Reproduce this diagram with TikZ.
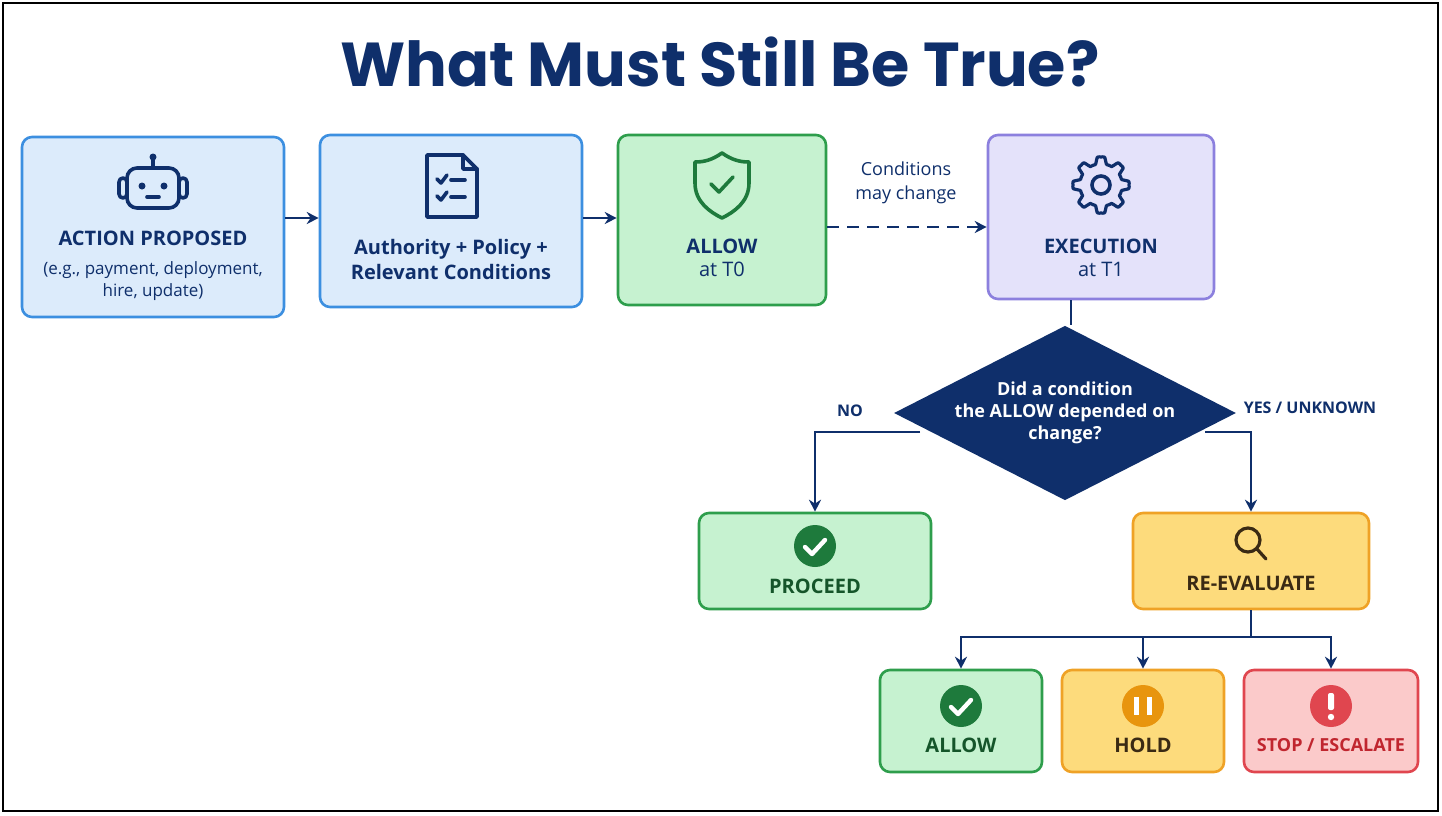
\documentclass[tikz,border=0pt]{standalone}
\usepackage{fontspec}
\setmainfont{Open Sans}
\newfontfamily\titlefont{Poppins}
\usetikzlibrary{shapes.geometric,arrows.meta}

\definecolor{navy}{HTML}{0F2F6B}
\definecolor{bluefill}{HTML}{DCEBFB}
\definecolor{blueline}{HTML}{3C8FE0}
\definecolor{greenfill}{HTML}{C6F2D0}
\definecolor{greenline}{HTML}{2E9E4C}
\definecolor{greendark}{HTML}{1E7A3C}
\definecolor{purplefill}{HTML}{E4E2FA}
\definecolor{purpleline}{HTML}{8C80DE}
\definecolor{yellowfill}{HTML}{FDDB7C}
\definecolor{yellowline}{HTML}{EFA226}
\definecolor{orangeicon}{HTML}{E8950E}
\definecolor{redfill}{HTML}{FBCACA}
\definecolor{redline}{HTML}{E0464F}
\definecolor{redtext}{HTML}{C0262F}
\definecolor{brown}{HTML}{3A2A14}

\tikzset{
  box/.style={draw, line width=1.3pt, rounded corners=5pt, align=center,
    font=\bfseries\fontsize{10}{12}\selectfont, text=navy, inner sep=2pt},
  bluebox/.style={box, fill=bluefill, draw=blueline},
  greenbox/.style={box, fill=greenfill, draw=greenline},
  purplebox/.style={box, fill=purplefill, draw=purpleline},
  yellowbox/.style={box, fill=yellowfill, draw=yellowline, text=brown},
  redbox/.style={box, fill=redfill, draw=redline, text=redtext},
  decision/.style={diamond, fill=navy, text=white, aspect=1.96, inner sep=0pt,
    minimum width=157pt, minimum height=80pt, align=center,
    font=\bfseries\fontsize{9}{11}\selectfont},
  flow/.style={navy, line width=1.2pt, -{Stealth[length=6pt,width=6pt]}},
  lbl/.style={text=navy, font=\bfseries\fontsize{8}{10}\selectfont},
  icon/.style={navy, line width=1.8pt, line cap=round, line join=round}
}

\begin{document}
\begin{tikzpicture}[x=0.5pt, y=-0.5pt]
\useasboundingbox (0,0) rectangle (1442,815);
\fill[white] (0,0) rectangle (1442,815);
\draw[line width=1pt] (3,3) rectangle (1438,811);

\node[text=navy, font=\titlefont\bfseries\fontsize{31}{36}\selectfont] (title) at (720,62) {What Must Still Be True?};

% top row
\node[bluebox, minimum width=131pt, minimum height=90pt, text depth=30pt] (action) at (153,227) {};
\node[text=navy, align=center, font=\bfseries\fontsize{10}{12}\selectfont] (actiontxt) at (153,238) {ACTION PROPOSED};
\node[text=navy, align=center, font=\fontsize{8.5}{11}\selectfont] (actionsub) at (153,281) {(e.g., payment, deployment,\\hire, update)};
\node[bluebox, minimum width=131pt, minimum height=86pt] (policy) at (451,221) {};
\node[text=navy, align=center, font=\bfseries\fontsize{10}{12.5}\selectfont] (policytxt) at (451,259) {Authority + Policy +\\Relevant Conditions};
\node[greenbox, minimum width=104pt, minimum height=85pt] (allow0) at (722,220) {};
\node[text=navy, align=center, font=\bfseries\fontsize{10}{12.5}\selectfont] (allow0txt) at (722,258) {ALLOW\\[-1pt]{\mdseries at T0}};
\node[purplebox, minimum width=113pt, minimum height=82pt] (exec) at (1101,217) {};
\node[text=navy, align=center, font=\bfseries\fontsize{10}{12.5}\selectfont] (exectxt) at (1101,258) {EXECUTION\\[-1pt]{\mdseries at T1}};

% icons
\begin{scope}[icon]
  % robot
  \draw[rounded corners=5pt] (127,168) rectangle (179,208);
  \draw (153,168) -- (153,160); \fill[navy] (153,157) circle (3.5);
  \draw[rounded corners=2pt] (119,178) rectangle (127,198);
  \draw[rounded corners=2pt] (179,178) rectangle (187,198);
  \fill[navy] (142,186) circle (3.5); \fill[navy] (164,186) circle (3.5);
  \draw (147,197) -- (159,197);
  % document
  \draw (427,155) -- (463,155) -- (477,169) -- (477,217) -- (427,217) -- cycle;
  \draw (463,155) -- (463,169) -- (477,169);
  \draw (437,179) -- (441,183) -- (447,175); \draw (451,180) -- (465,180);
  \draw (437,196) -- (441,200) -- (447,192); \draw (451,197) -- (465,197);
  % shield
  \draw[greendark] (722,153) .. controls (712,160) and (704,162) .. (695,162)
    -- (695,183) .. controls (695,202) and (710,212) .. (722,218)
    .. controls (734,212) and (749,202) .. (749,183) -- (749,162)
    .. controls (740,162) and (732,160) .. (722,153) -- cycle;
  \draw[greendark] (711,184) -- (719,192) -- (733,177);
  % gear
  \draw (1101,185) circle (9);
  \draw[line width=1.6pt] plot[smooth cycle, tension=0.3, samples=48, domain=0:352.5, variable=\t]
    ({1101+(29+ 4*(cos(8*\t)>0 ? 1 : -1))*cos(\t)*0.85}, {185+(29+ 4*(cos(8*\t)>0 ? 1 : -1))*sin(\t)*0.85});
\end{scope}

% decision
\node[decision] (cond) at (1065,413) {Did a condition\\the ALLOW depended on\\change?};
\coordinate (condleft) at (920,432);
\coordinate (condright) at (1205,432);

% outcomes
\node[greenbox, minimum width=116pt, minimum height=48pt] (proceed) at (815,561) {};
\node[text=greendark!70!black, font=\bfseries\fontsize{10}{12}\selectfont] (proceedtxt) at (815,586) {PROCEED};
\node[yellowbox, minimum width=118pt, minimum height=48pt] (reeval) at (1251,561) {};
\node[text=brown, font=\bfseries\fontsize{10}{12}\selectfont] (reevaltxt) at (1251,583) {RE-EVALUATE};
\node[greenbox, minimum width=81pt, minimum height=51pt] (allow) at (961,721) {};
\node[text=greendark!70!black, font=\bfseries\fontsize{10}{12}\selectfont] (allowtxt) at (961,745) {ALLOW};
\node[yellowbox, minimum width=81pt, minimum height=51pt] (hold) at (1143,721) {};
\node[text=brown, font=\bfseries\fontsize{10}{12}\selectfont] (holdtxt) at (1143,745) {HOLD};
\node[redbox, minimum width=87pt, minimum height=51pt] (stop) at (1331,721) {};
\node[text=redtext, font=\bfseries\fontsize{9}{11}\selectfont] (stoptxt) at (1331,745) {STOP / ESCALATE};

% small icons
\fill[greendark] (815,546) circle (21);
\draw[white, line width=2.2pt, line cap=round, line join=round] (805,547) -- (812,554) -- (825,540);
\fill[greendark] (961,706) circle (21);
\draw[white, line width=2.2pt, line cap=round, line join=round] (951,707) -- (958,714) -- (971,700);
\fill[orangeicon] (1143,706) circle (21);
\fill[white] (1134,697) rectangle (1139,715); \fill[white] (1147,697) rectangle (1152,715);
\fill[redline] (1331,706) circle (21);
\fill[white, rounded corners=1pt] (1328,693) rectangle (1334,710);
\fill[white] (1331,717) circle (3.2);
\draw[brown, line width=1.6pt, line cap=round] (1248,540) circle (12) (1257,549) -- (1266,559);

% connectors
\draw[flow] (action.east |- 0,218) -- (policy.west |- 0,218);
\draw[flow] (policy.east |- 0,218) -- (allow0.west |- 0,218);
\draw[flow, dashed, dash pattern=on 6pt off 4pt] (allow0.east |- 0,227) -- (exec.west |- 0,227);
\node[text=navy, align=center, font=\fontsize{9}{12}\selectfont] (changelbl) at (906,183) {Conditions\\may change};
\draw[navy, line width=1pt] (exec.south -| 1071,0) -- (cond.north -| 1071,0);
\draw[flow] (condleft) -| (proceed.north);
\draw[flow] (condright) -| (reeval.north);
\node[lbl] (nolbl) at (850,411) {NO};
\node[lbl] (yeslbl) at (1310,408) {YES / UNKNOWN};
\coordinate (split) at (1251,637);
\draw[navy, line width=1.2pt] (reeval.south) -- (split);
\draw[flow] (split) -| (allow.north);
\draw[flow] (split) -| (stop.north);
\draw[flow] (hold.north |- split) -- (hold.north);
\end{tikzpicture}
\end{document}
